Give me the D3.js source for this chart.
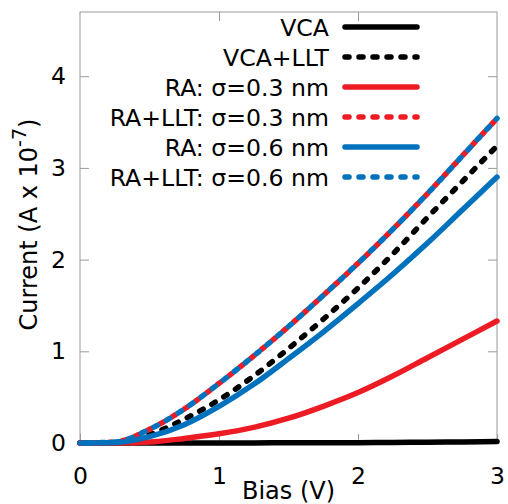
<!DOCTYPE html>
<html>
<head>
<meta charset="utf-8">
<script src="https://cdn.jsdelivr.net/npm/d3@7/dist/d3.min.js"></script>
<style>
  html, body { margin: 0; padding: 0; background: #fff; }
  svg { display: block; font-family: "DejaVu Sans", sans-serif; }
</style>
</head>
<body>
<script>
// Bias sweep (V)
const bias = [0, 0.25, 0.5, 0.75, 1.0, 1.25, 1.5, 1.75, 2.0, 2.25, 2.5, 2.75, 3.0];

// Current (units of 1e-7 A) for each model
const vca      = [0, 0, 0, 0, 0, 0.001, 0.002, 0.003, 0.004, 0.006, 0.008, 0.011, 0.015];
const vcaLlt   = [0, 0.005, 0.09, 0.26, 0.47, 0.73, 1.03, 1.35, 1.69, 2.06, 2.46, 2.85, 3.24];
const ra03     = [0, 0.0, 0.01, 0.05, 0.10, 0.17, 0.27, 0.40, 0.55, 0.73, 0.93, 1.13, 1.33];
const raLlt03  = [0, 0.01, 0.15, 0.37, 0.65, 0.95, 1.27, 1.61, 1.96, 2.33, 2.72, 3.13, 3.54];
const ra06     = [0, 0.005, 0.07, 0.20, 0.40, 0.64, 0.92, 1.21, 1.52, 1.84, 2.18, 2.54, 2.90];
const raLlt06  = [0, 0.01, 0.15, 0.37, 0.65, 0.95, 1.27, 1.61, 1.96, 2.33, 2.72, 3.13, 3.54];

const seriesNames = ["VCA", "VCA+LLT", "RA: σ=0.3 nm", "RA+LLT: σ=0.3 nm", "RA: σ=0.6 nm", "RA+LLT: σ=0.6 nm"];
const seriesValues = [vca, vcaLlt, ra03, raLlt03, ra06, raLlt06];
const seriesColors = ["#000000", "#000000", "#ed1c24", "#ed1c24", "#0072bd", "#0072bd"];
const seriesDashed = [false, true, false, true, false, true];

const xTicks = [0, 1, 2, 3];
const yTicks = [0, 1, 2, 3, 4];

const W = 508, H = 504;
const margin = { left: 80, right: 11, top: 12, bottom: 61 };

const svg = d3.select("body").append("svg").attr("width", W).attr("height", H);

const x = d3.scaleLinear().domain([0, 3]).range([margin.left, W - margin.right]);
const y = d3.scaleLinear().domain([0, 4.7]).range([H - margin.bottom, margin.top]);

const frameColor = "#9a9a9a";
const tickLen = 9;

// Frame
svg.append("rect")
  .attr("x", x(0)).attr("y", y(4.7))
  .attr("width", x(3) - x(0)).attr("height", y(0) - y(4.7))
  .attr("fill", "none").attr("stroke", frameColor).attr("stroke-width", 1);

// Axes with inward ticks, mirrored on the opposite sides
function styleAxis(g) {
  g.select(".domain").remove();
  g.selectAll(".tick line").attr("stroke", frameColor);
  g.selectAll(".tick text").attr("fill", "#000").style("font-size", "23.5px")
    .style("font-family", "DejaVu Sans, sans-serif");
}

svg.append("g").attr("transform", `translate(0,${y(0)})`)
  .call(d3.axisBottom(x).tickValues(xTicks).tickFormat(d3.format("d")).tickSizeInner(-tickLen).tickPadding(14))
  .call(styleAxis)
  .call(g => g.selectAll(".tick text").attr("dy", "0.85em").attr("y", 21));

svg.append("g").attr("transform", `translate(0,${y(4.7)})`)
  .call(d3.axisTop(x).tickValues(xTicks.slice(1, 3)).tickFormat("").tickSizeInner(-tickLen))
  .call(styleAxis);

svg.append("g").attr("transform", `translate(${x(0)},0)`)
  .call(d3.axisLeft(y).tickValues(yTicks).tickFormat(d3.format("d")).tickSizeInner(-tickLen).tickPadding(14))
  .call(styleAxis)
  .call(g => g.selectAll(".tick text").attr("x", -14));

svg.append("g").attr("transform", `translate(${x(3)},0)`)
  .call(d3.axisRight(y).tickValues(yTicks.slice(1)).tickFormat("").tickSizeInner(-tickLen))
  .call(styleAxis);

// Axis titles
svg.append("text")
  .attr("x", (x(0) + x(3)) / 2).attr("y", 499)
  .attr("text-anchor", "middle").style("font-size", "24px")
  .text("Bias (V)");

const yTitle = svg.append("text")
  .attr("transform", `translate(37,${(y(0) + y(4.7)) / 2 - 3}) rotate(-90)`)
  .attr("text-anchor", "middle").style("font-size", "24px");
yTitle.append("tspan").text("Current (A x 10");
yTitle.append("tspan").attr("baseline-shift", "super").style("font-size", "19px").text("-7");
yTitle.append("tspan").text(")");

// Curves
const line = d3.line()
  .x((d, i) => x(bias[i]))
  .y(d => y(d))
  .curve(d3.curveMonotoneX);

const dashArray = "4 10";
const lineWidth = 5.5;

seriesValues.forEach((vals, k) => {
  const p = svg.append("path")
    .datum(vals)
    .attr("d", line)
    .attr("fill", "none")
    .attr("stroke", seriesColors[k])
    .attr("stroke-width", lineWidth)
    .attr("stroke-linecap", "round")
    .attr("stroke-linejoin", "round");
  if (seriesDashed[k]) {
    p.attr("stroke-dasharray", dashArray);
    if (k === 5) p.attr("stroke-dashoffset", 7);
  }
});

// Legend
const legend = svg.append("g");
seriesNames.forEach((name, k) => {
  const ly = 27 + k * 30;
  legend.append("text")
    .attr("x", 329).attr("y", ly + 8.5)
    .attr("text-anchor", "end").style("font-size", "23.6px")
    .text(name);
  const l = legend.append("line")
    .attr("x1", 345).attr("x2", 417)
    .attr("y1", ly).attr("y2", ly)
    .attr("stroke", seriesColors[k])
    .attr("stroke-width", lineWidth)
    .attr("stroke-linecap", "round");
  if (seriesDashed[k]) l.attr("stroke-dasharray", dashArray);
});
</script>
</body>
</html>
